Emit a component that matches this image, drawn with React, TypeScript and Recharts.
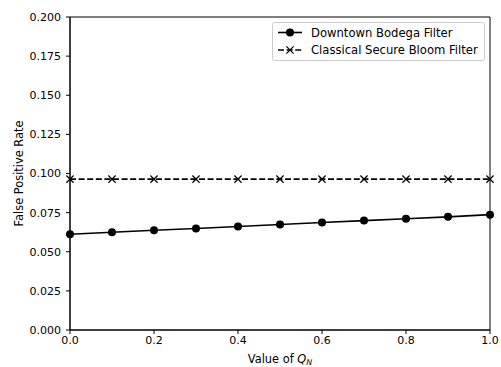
import React from "react"
import { LineChart, Line, XAxis, YAxis, ReferenceArea } from "recharts"

// values of Q_N along the x axis
const qValues = [0.0, 0.1, 0.2, 0.3, 0.4, 0.5, 0.6, 0.7, 0.8, 0.9, 1.0]
const bodegaRates = [0.0612, 0.0625, 0.0637, 0.0649, 0.0661, 0.0674, 0.0687, 0.0699, 0.0711, 0.0723, 0.0737]
const bloomRates = [0.0964, 0.0964, 0.0964, 0.0964, 0.0964, 0.0964, 0.0964, 0.0964, 0.0964, 0.0964, 0.0964]

const xTicks = [0, 0.2, 0.4, 0.6, 0.8, 1.0]
const yTicks = [0, 0.025, 0.05, 0.075, 0.1, 0.125, 0.15, 0.175, 0.2]

const data = qValues.map((q, i) => ({ q, bodega: bodegaRates[i], bloom: bloomRates[i] }))

const FONT = "DejaVu Sans, sans-serif"
const FS = 11
const LABEL_FS = 11.4
const LEGEND_FS = 11.6

const CrossDot = (props: any) => {
  const { cx, cy } = props
  if (cx == null || cy == null) return null
  const s = 3.6
  return (
    <g stroke="#000" strokeWidth={1.2}>
      <line x1={cx - s} y1={cy - s} x2={cx + s} y2={cy + s} />
      <line x1={cx - s} y1={cy + s} x2={cx + s} y2={cy - s} />
    </g>
  )
}

const LegendBox = () => (
  <svg width={214} height={40} style={{ display: "block" }}>
    <rect x={0.5} y={0.5} width={212} height={38} rx={2} fill="#fff" stroke="#ccc" strokeWidth={1} />
    <line x1={6} y1={10.5} x2={30} y2={10.5} stroke="#000" strokeWidth={1.6} />
    <circle cx={18} cy={10.5} r={4} fill="#000" />
    <text x={39} y={14.8} fontFamily={FONT} fontSize={LEGEND_FS} fill="#000">Downtown Bodega Filter</text>
    <line x1={6} y1={28} x2={30} y2={28} stroke="#000" strokeWidth={1.6} strokeDasharray="6,2.6" />
    <CrossDot cx={18} cy={28} />
    <text x={39} y={32.3} fontFamily={FONT} fontSize={LEGEND_FS} fill="#000">Classical Secure Bloom Filter</text>
  </svg>
)

const XLabel = (props: any) => {
  const vb = props.viewBox || {}
  const cx = vb.x + vb.width / 2
  return (
    <text x={cx} y={363} textAnchor="middle" fontFamily={FONT} fontSize={LABEL_FS} fill="#000">
      Value of <tspan fontStyle="italic">Q</tspan>
      <tspan fontStyle="italic" fontSize={LABEL_FS * 0.7} dy={2}>N</tspan>
    </text>
  )
}

export default function App() {
  return (
    <div style={{ position: "absolute", left: 0, top: 0, width: 501, height: 367, background: "#fff" }}>
      <LineChart width={501} height={367} data={data} margin={{ top: 17, right: 11, bottom: 0, left: 0 }}>
        <XAxis
          dataKey="q"
          type="number"
          domain={[0, 1]}
          ticks={xTicks}
          tickFormatter={(v: number) => v.toFixed(1)}
          height={37}
          tickSize={4}
          tickMargin={2}
          axisLine={{ stroke: "#000", strokeWidth: 1 }}
          tickLine={{ stroke: "#000" }}
          tick={{ fill: "#000", fontFamily: FONT, fontSize: FS }}
          label={<XLabel />}
        />
        <YAxis
          type="number"
          domain={[0, 0.2]}
          ticks={yTicks}
          tickFormatter={(v: number) => v.toFixed(3)}
          width={70}
          tickSize={4}
          tickMargin={5}
          axisLine={{ stroke: "#000", strokeWidth: 1 }}
          tickLine={{ stroke: "#000" }}
          tick={{ fill: "#000", fontFamily: FONT, fontSize: FS }}
          label={{
            value: "False Positive Rate",
            angle: -90,
            position: "insideLeft",
            offset: 0,
            dx: 19,
            style: { textAnchor: "middle", fill: "#000", fontFamily: FONT, fontSize: LABEL_FS },
          }}
        />
        <ReferenceArea x1={0} x2={1} y1={0} y2={0.2} fill="none" stroke="#000" strokeWidth={1} />
        <Line
          dataKey="bloom"
          stroke="#000"
          strokeWidth={1.6}
          strokeDasharray="6,2.6"
          dot={<CrossDot />}
          activeDot={false}
          isAnimationActive={false}
        />
        <Line
          dataKey="bodega"
          stroke="#000"
          strokeWidth={1.6}
          dot={{ r: 4, fill: "#000", stroke: "#000", strokeWidth: 0 }}
          activeDot={false}
          isAnimationActive={false}
        />
      </LineChart>
      <div style={{ position: "absolute", top: 22, left: 272 }}>
        <LegendBox />
      </div>
    </div>
  )
}
